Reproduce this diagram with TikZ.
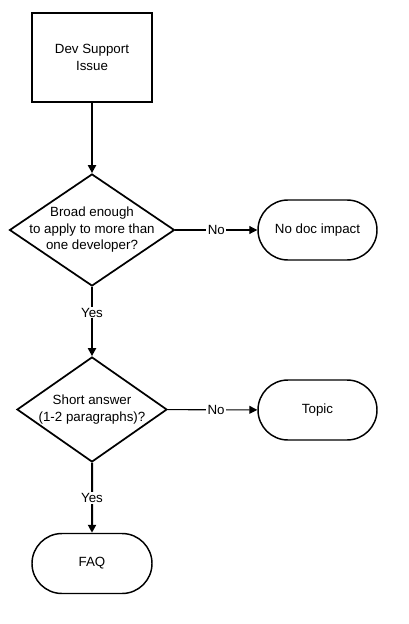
\documentclass[tikz,border=0pt]{standalone}
\usepackage{fontspec}
\setmainfont{Liberation Sans}
\usetikzlibrary{shapes.geometric,shapes.misc,arrows.meta}
\begin{document}
\begin{tikzpicture}
[x=0.75pt, y=-0.75pt,
 nodes={font=\fontsize{10}{12.4}\selectfont, align=center},
 process/.style={draw, line width=1.5pt, minimum width=90pt, minimum height=66.75pt, inner sep=0pt},
 decision/.style={draw, diamond, line width=1.3pt, inner sep=0pt},
 terminal/.style={draw, rounded rectangle, line width=1.1pt, minimum width=89.25pt, minimum height=45pt, inner sep=0pt},
 flow/.style={->, line width=1.5pt},
 sideflow/.style={->, line width=0.8pt},
 answer/.style={fill=white, inner sep=1pt},
 >={Triangle[length=6pt,width=6pt]}]
\useasboundingbox (0,0) rectangle (408,624);
\node (issue) at (92,57.5) [process] {Dev Support\\Issue};
\node (broad) at (92,230) [decision, minimum width=123.75pt, minimum height=84pt,
  label={[align=center]center:Broad enough\\to apply to more than\\one developer?}] {};
\node (nodoc) at (317.5,230) [terminal] {No doc impact};
\node (short) at (92,409.5) [decision, minimum width=112.5pt, minimum height=78.75pt,
  label={[align=center]center:Short answer\\(1-2 paragraphs)?}] {};
\node (topic) at (317.5,410) [terminal] {Topic};
\node (faq) at (92,563.5) [terminal, minimum width=90pt] {FAQ};

\draw [flow] (issue) -- (broad);
\draw [sideflow] (broad) -- node [answer] {No} (nodoc);
\draw [flow] (broad) -- node [answer, pos=.37] {Yes} (short);
\draw [sideflow] (short) -- node [answer, pos=.54] {No} (topic);
\draw [flow] (short) -- node [answer] {Yes} (faq);
\end{tikzpicture}
\end{document}
